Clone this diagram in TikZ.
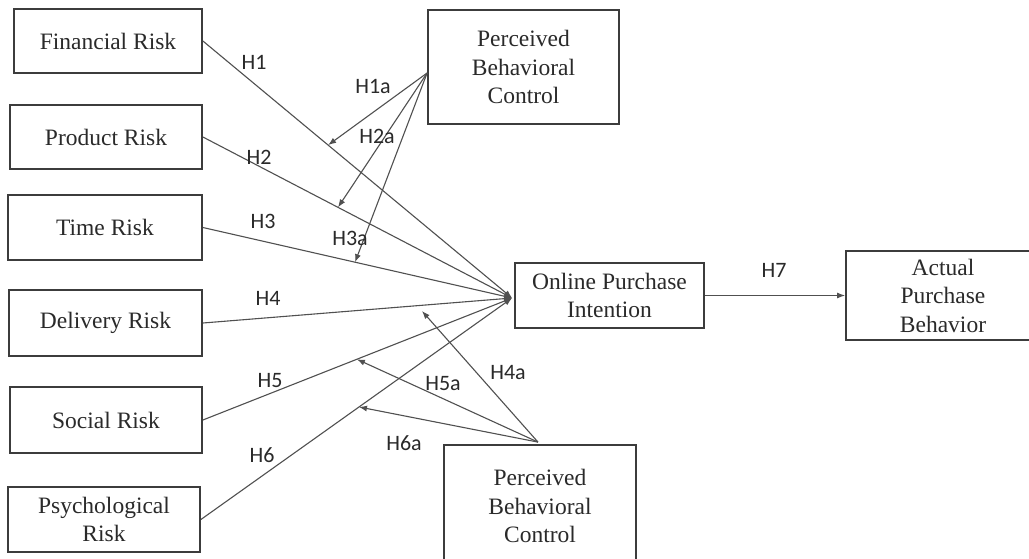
\documentclass[tikz,border=0pt]{standalone}
\usepackage{fontspec}
\setmainfont{Liberation Serif}
\newfontfamily\labelfont{Carlito}
\usetikzlibrary{arrows.meta,calc}
\definecolor{boxc}{HTML}{3C3C3C}
\definecolor{linec}{HTML}{505050}
\definecolor{txtc}{HTML}{2A2A2A}
\begin{document}
\begin{tikzpicture}[x=1pt,y=-1pt,
  box/.style={draw=boxc, line width=1.8pt, rectangle, inner sep=0pt, align=center, text=txtc,
    font=\fontsize{23.5}{28.5}\selectfont},
  conn/.style={draw=linec, line width=1.1pt, -{Latex[length=8pt,width=6pt]}},
  hlab/.style={text=txtc, font=\labelfont\fontsize{22}{24}\selectfont, inner sep=0pt}]
\useasboundingbox (0,0) rectangle (1029,558);
\clip (0,0) rectangle (1029,558);
\fill[white] (0,0) rectangle (1029,558);

% boxes
\node[box, minimum width=188, minimum height=64] (fin) at (108,41) {Financial Risk};
\node[box, minimum width=192, minimum height=64] (prod) at (106,137) {Product Risk};
\node[box, minimum width=194, minimum height=65] (time) at (105,227.5) {Time Risk};
\node[box, minimum width=193, minimum height=66] (deliv) at (105.5,323) {Delivery Risk};
\node[box, minimum width=192, minimum height=66] (soc) at (106,420) {Social Risk};
\node[box, minimum width=192, minimum height=65] (psy) at (104,519.5) {Psychological\\Risk};
\node[box, minimum width=191, minimum height=114] (pbcA) at (523.5,67) {Perceived\\Behavioral\\Control};
\node[box, minimum width=189, minimum height=65] (opi) at (609.5,295.5) {Online Purchase\\Intention};
\node[box, minimum width=194, minimum height=89] (apb) at (943,295.5) {Actual\\Purchase\\Behavior};
\node[box, minimum width=192, minimum height=122] (pbcB) at (540,506) {Perceived\\Behavioral\\Control};

% convergence point and sources
\coordinate (conv) at ($(opi.west)+(-2,2.5)$);
\coordinate (srcA) at ($(pbcA.west)+(0,6)$);
\coordinate (srcB) at ($(pbcB.north)+(-2,-2)$);

% main paths
\draw[conn] (fin.east) -- (conv);
\draw[conn] (prod.east) -- (conv);
\draw[conn] (time.east) -- (conv);
\draw[conn] (deliv.east) -- (conv);
\draw[conn] (soc.east) -- (conv);
\draw[conn] (psy.east) -- (conv);
\draw[conn] (opi.east) -- (apb.west);

% moderation tips
\coordinate (t1a) at ($(fin.east)!0.405!(conv)$);
\coordinate (t2a) at ($(prod.east)!0.437!(conv)$);
\coordinate (t3a) at ($(time.east)!0.492!(conv)$);
\coordinate (t4a) at (422,311);
\coordinate (t5a) at ($(soc.east)!0.498!(conv)$);
\coordinate (t6a) at ($(psy.east)!0.508!(conv)$);

\draw[conn] (srcA) -- (t1a);
\draw[conn] (srcA) -- (t2a);
\draw[conn] (srcA) -- (t3a);
\draw[conn] (srcB) -- (t4a);
\draw[conn] (srcB) -- (t5a);
\draw[conn] (srcB) -- (t6a);

% labels
\node[hlab] (h1) at (254,62) {H1};
\node[hlab] (h1a) at (373,86) {H1a};
\node[hlab] (h2) at (259,157) {H2};
\node[hlab] (h2a) at (377,136) {H2a};
\node[hlab] (h3) at (263,221) {H3};
\node[hlab] (h3a) at (350,238) {H3a};
\node[hlab] (h4) at (268,298) {H4};
\node[hlab] (h5) at (270,381) {H5};
\node[hlab] (h6) at (262,455) {H6};
\node[hlab] (h4a) at (508,373) {H4a};
\node[hlab] (h5a) at (443,384) {H5a};
\node[hlab] (h6a) at (404,443) {H6a};
\node[hlab] (h7) at (774,270) {H7};
\end{tikzpicture}
\end{document}
